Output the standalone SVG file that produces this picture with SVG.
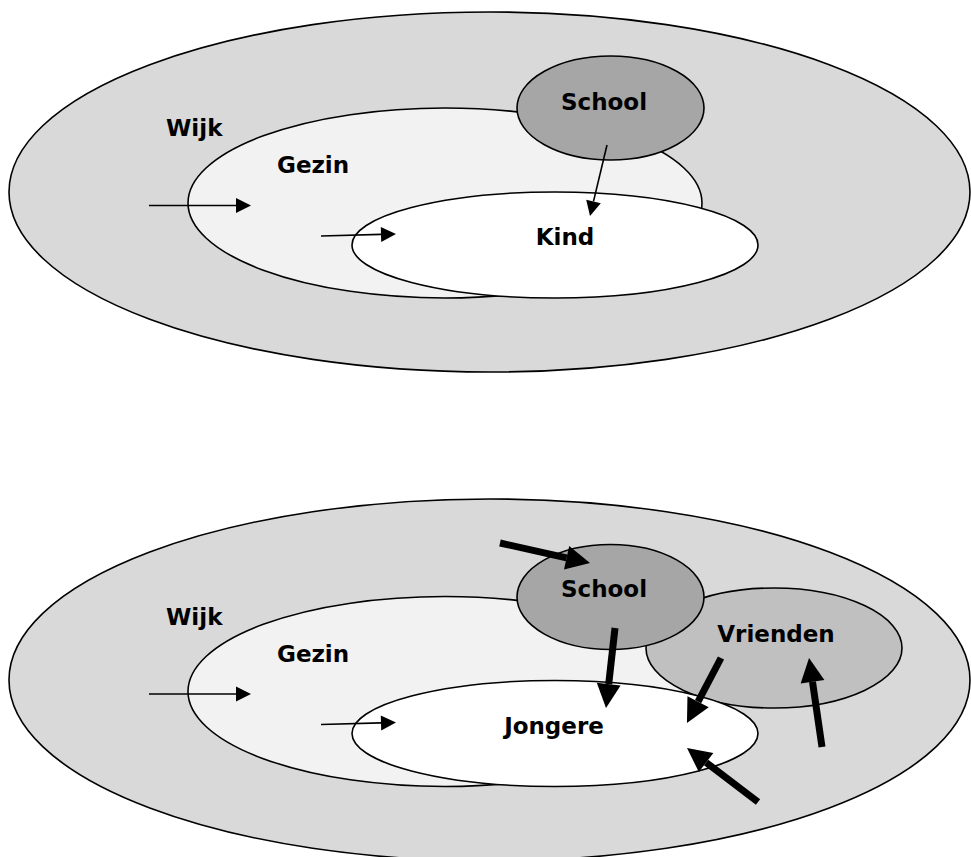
<svg xmlns="http://www.w3.org/2000/svg" width="971" height="857" viewBox="0 0 971 857">
<style>
.e{stroke:#000;stroke-width:1.6}
.wijk{fill:#d9d9d9}
.gezin{fill:#f2f2f2}
.kind{fill:#fff}
.school{fill:#a6a6a6}
.vrienden{fill:#c0c0c0}
text{font-family:"DejaVu Sans",Verdana,sans-serif;font-weight:bold;font-size:23px;fill:#000}
.thin{stroke:#000;stroke-width:1.6;fill:none}
.thick{stroke:#000;stroke-width:7;fill:none}
</style>
<defs>
<marker id="ah" markerUnits="userSpaceOnUse" orient="auto" refX="0" refY="0" markerWidth="20" markerHeight="20" overflow="visible">
<path d="M0,-7.5 L15,0 L0,7.5 Z" fill="#000"/>
</marker>
<marker id="ahb" markerUnits="userSpaceOnUse" orient="auto" refX="0" refY="0" markerWidth="30" markerHeight="30" overflow="visible">
<path d="M0,-12 L24,0 L0,12 Z" fill="#000"/>
</marker>
</defs>
<g id="top">
<g id="wijk1"><ellipse class="e wijk" cx="489.5" cy="192" rx="480.5" ry="180"/><text x="166" y="136">Wijk</text></g>
<g id="gezin1"><ellipse class="e gezin" cx="445" cy="203" rx="257" ry="95"/><text x="277" y="173">Gezin</text></g>
<g id="kind1"><ellipse class="e kind" cx="555" cy="245" rx="203" ry="53"/><text x="565" y="245" text-anchor="middle">Kind</text></g>
<g id="school1"><ellipse class="e school" cx="610.5" cy="108" rx="93.5" ry="52"/><text x="604" y="110" text-anchor="middle">School</text></g>
</g>
<g id="bottom">
<g id="wijk2"><ellipse class="e wijk" cx="489.5" cy="680" rx="480.5" ry="181"/><text x="166" y="625">Wijk</text></g>
<g id="gezin2"><ellipse class="e gezin" cx="445" cy="691.5" rx="257" ry="95"/><text x="277" y="662">Gezin</text></g>
<g id="vrienden"><ellipse class="e vrienden" cx="774" cy="648" rx="128" ry="60"/><text x="776" y="642" text-anchor="middle">Vrienden</text></g>
<g id="jongere"><ellipse class="e kind" cx="555" cy="733.5" rx="203" ry="53"/><text x="554" y="734" text-anchor="middle">Jongere</text></g>
<g id="school2"><ellipse class="e school" cx="610.5" cy="597" rx="93.5" ry="52.5"/><text x="604" y="597" text-anchor="middle">School</text></g>
</g>
<g id="connectors">
<line class="thin" x1="149" y1="205.5" x2="236" y2="205.5" marker-end="url(#ah)"/>
<line class="thin" x1="321" y1="236" x2="381" y2="234.4" marker-end="url(#ah)"/>
<line class="thin" x1="607" y1="145" x2="593.5" y2="201.4" marker-end="url(#ah)"/>
<line class="thin" x1="149" y1="694" x2="236" y2="694" marker-end="url(#ah)"/>
<line class="thin" x1="321" y1="724.5" x2="381" y2="722.9" marker-end="url(#ah)"/>
<line class="thick" x1="500" y1="543" x2="566.6" y2="557.8" marker-end="url(#ahb)"/>
<line class="thick" x1="615" y1="628" x2="608.7" y2="684.1" marker-end="url(#ahb)"/>
<line class="thick" x1="721" y1="658" x2="698.1" y2="701.7" marker-end="url(#ahb)"/>
<line class="thick" x1="758" y1="802" x2="706.1" y2="762.5" marker-end="url(#ahb)"/>
<line class="thick" x1="822" y1="747" x2="812.5" y2="681.8" marker-end="url(#ahb)"/>
</g>
</svg>
